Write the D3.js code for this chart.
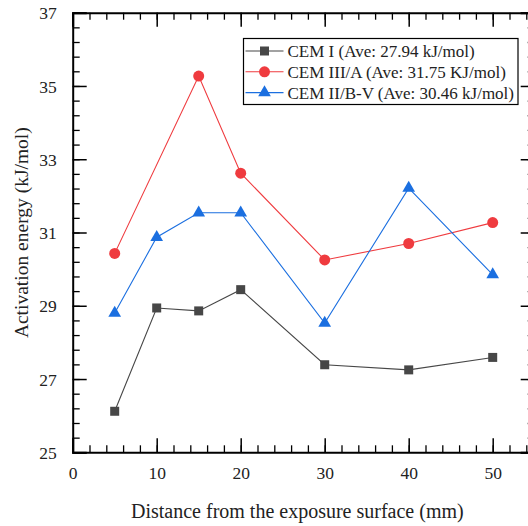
<!DOCTYPE html>
<html>
<head>
<meta charset="utf-8">
<script src="https://cdn.jsdelivr.net/npm/d3@7"></script>
<style>
  body { margin: 0; background: #fff; }
  svg { display: block; font-family: "Liberation Serif", "Times New Roman", serif; }
</style>
</head>
<body>
<svg id="chart" width="528" height="526"></svg>
<script>
"use strict";

// data
const distCemI = [5, 10, 15, 20, 30, 40, 50];
const valCemI = [26.12, 28.94, 28.86, 29.44, 27.39, 27.25, 27.59];

const distCemIII = [5, 15, 20, 30, 40, 50];
const valCemIII = [30.43, 35.27, 32.62, 30.25, 30.70, 31.27];

const distCemII = [5, 10, 15, 20, 30, 40, 50];
const valCemII = [28.80, 30.87, 31.54, 31.54, 28.53, 32.21, 29.85];

const seriesNames = [
    "CEM I (Ave: 27.94 kJ/mol)",
    "CEM III/A (Ave: 31.75 KJ/mol)",
    "CEM II/B-V (Ave: 30.46 kJ/mol)"
];
const xTickLabels = [0, 10, 20, 30, 40, 50];
const yTickLabels = [25, 27, 29, 31, 33, 35, 37];

const margin = {left: 72.7, top: 12.7, right: 534.7, bottom: 452.3};

const x = d3.scaleLinear().domain([0, 55]).range([margin.left, margin.right]);
const y = d3.scaleLinear().domain([25, 37]).range([margin.bottom, margin.top]);

const svg = d3.select("#chart");

const series = [
    {name: seriesNames[0], xs: distCemI, ys: valCemI, color: "#474747", shape: d3.symbolSquare, size: 81},
    {name: seriesNames[1], xs: distCemIII, ys: valCemIII, color: "#ef3b3f", shape: d3.symbolCircle, size: 95},
    {name: seriesNames[2], xs: distCemII, ys: valCemII, color: "#1b6fe0", shape: d3.symbolTriangle, size: 70}
];

// ticks
const xMinor = d3.range(0, 56, 2);
const yMinor = d3.range(25, 37.01, 0.4);

function drawAxis(axisFn, scale, minor, major, transform, labels) {
    const gMinor = svg.append("g")
        .attr("transform", transform)
        .call(axisFn(scale).tickValues(minor).tickSize(-7).tickFormat(""));
    gMinor.select("path").remove();
    gMinor.selectAll("line").attr("stroke", "#000").attr("stroke-width", 1.3);

    const g = svg.append("g")
        .attr("transform", transform)
        .call(axisFn(scale).tickValues(major).tickSize(-14).tickPadding(labels ? 4 : 0).tickFormat(labels ? d3.format("d") : ""));
    g.select("path").attr("stroke", "#000").attr("stroke-width", 2);
    g.selectAll("line").attr("stroke", "#000").attr("stroke-width", 1.5);
    g.selectAll("text")
        .attr("font-family", "Liberation Serif")
        .attr("font-size", 17.5)
        .attr("fill", "#222");
    return g;
}

const gx = drawAxis(d3.axisBottom, x, xMinor, xTickLabels, "translate(0," + margin.bottom + ")", true);
gx.selectAll("text").attr("dy", "1.3em");
drawAxis(d3.axisTop, x, xMinor, xTickLabels, "translate(0," + margin.top + ")", false);
const gy = drawAxis(d3.axisLeft, y, yMinor, yTickLabels, "translate(" + margin.left + ",0)", true);
gy.selectAll("text").attr("dx", "-12").attr("dy", "0.35em");
drawAxis(d3.axisRight, y, yMinor, yTickLabels, "translate(" + margin.right + ",0)", false);

// lines and markers
const line = d3.line().x(d => x(d[0])).y(d => y(d[1]));

series.forEach(s => {
    const pts = s.xs.map((d, i) => [d, s.ys[i]]);
    svg.append("path")
        .datum(pts)
        .attr("fill", "none")
        .attr("stroke", s.color)
        .attr("stroke-width", 1.1)
        .attr("d", line);
    svg.append("g").selectAll("path")
        .data(pts)
        .enter()
        .append("path")
        .attr("transform", d => "translate(" + x(d[0]) + "," + y(d[1]) + ")")
        .attr("d", d3.symbol().type(s.shape).size(s.size))
        .attr("fill", s.color);
});

// legend
const legend = svg.append("g").attr("transform", "translate(243.5,38.5)");
legend.append("rect")
    .attr("width", 274.5)
    .attr("height", 66)
    .attr("fill", "#fff")
    .attr("stroke", "#000")
    .attr("stroke-width", 1.2);

series.forEach((s, i) => {
    const row = legend.append("g").attr("transform", "translate(0," + (12.5 + i * 20.8) + ")");
    row.append("line")
        .attr("x1", 2).attr("x2", 40)
        .attr("stroke", s.color)
        .attr("stroke-width", 1.1);
    row.append("path")
        .attr("transform", "translate(21,0)")
        .attr("d", d3.symbol().type(s.shape).size(s.size))
        .attr("fill", s.color);
    row.append("text")
        .attr("x", 44)
        .attr("dy", "0.35em")
        .attr("font-size", 17)
        .attr("fill", "#222")
        .text(s.name);
});

// axis titles
svg.append("text")
    .attr("x", (131.7 + 463) / 2)
    .attr("y", 518)
    .attr("text-anchor", "middle")
    .attr("font-size", 20)
    .attr("fill", "#222")
    .text("Distance from the exposure surface (mm)");

svg.append("text")
    .attr("transform", "translate(27.5,232.7) rotate(-90)")
    .attr("text-anchor", "middle")
    .attr("font-size", 19.5)
    .attr("fill", "#222")
    .text("Activation energy (kJ/mol)");
</script>
</body>
</html>
